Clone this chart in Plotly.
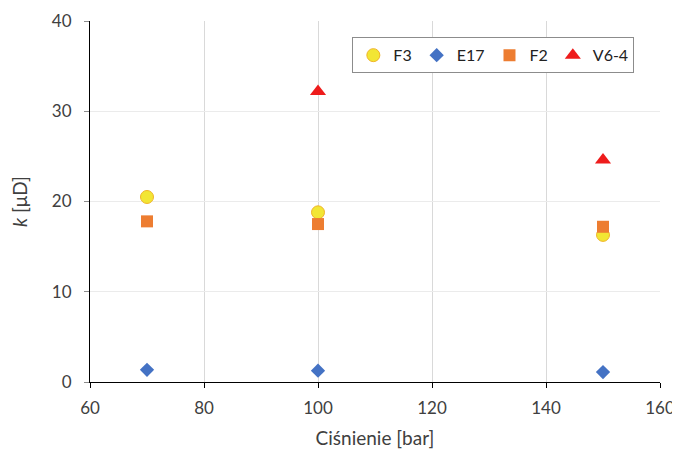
import plotly.graph_objects as go

pressure = [70, 100, 150]
f3 = [20.5, 18.8, 16.3]
e17 = [1.35, 1.25, 1.1]
f2 = [17.8, 17.5, 17.2]
v64_x = [100, 150]
v64 = [32.2, 24.6]

fig = go.Figure()
fig.add_trace(go.Scatter(x=pressure, y=f3, mode="markers", name="F3",
                         marker=dict(symbol="circle", size=13, color="#f2e634",
                                     line=dict(color="#f0b429", width=1))))
fig.add_trace(go.Scatter(x=pressure, y=e17, mode="markers", name="E17",
                         marker=dict(symbol="diamond", size=11, color="#4472c4",
                                     line=dict(width=0))))
fig.add_trace(go.Scatter(x=pressure, y=f2, mode="markers", name="F2",
                         marker=dict(symbol="square", size=12, color="#ed7d31",
                                     line=dict(width=0))))
fig.add_trace(go.Scatter(x=v64_x, y=v64, mode="markers", name="V6-4",
                         marker=dict(symbol="triangle-up", size=14, color="#ee1c1c",
                                     line=dict(width=0))))

fig.update_layout(
    width=672, height=441,
    margin=dict(l=82, r=20, t=13, b=67, autoexpand=False),
    paper_bgcolor="white", plot_bgcolor="white",
    font=dict(family="Lato, Open Sans, sans-serif", size=17, color="#404040"),
    showlegend=True,
    legend=dict(orientation="h", x=0.955, y=0.955, xanchor="right", yanchor="top",
                bordercolor="#8c8c8c", borderwidth=1, bgcolor="white",
                font=dict(size=16, color="#222222"), itemwidth=30,
                tracegroupgap=0),
    xaxis=dict(range=[60, 160], dtick=20, showgrid=True, gridcolor="#d9d9d9",
               gridwidth=1, zeroline=False, showline=True, linecolor="#000000",
               linewidth=1, ticks="outside", ticklen=5, tickcolor="#000000",
               ticklabelstandoff=6, ticklabeloverflow="allow", automargin=False,
               title=dict(text="Ciśnienie [bar]", standoff=18,
                          font=dict(size=19, color="#404040"))),
    yaxis=dict(range=[0, 40], dtick=10, showgrid=True, gridcolor="#ebebeb",
               gridwidth=1, zeroline=False, showline=True, linecolor="#000000",
               linewidth=1, ticks="outside", ticklen=5, tickcolor="#8c8c8c",
               ticklabelstandoff=9, ticklabeloverflow="allow", automargin=False,
               title=dict(text="<i>k</i> [μD]", standoff=20,
                          font=dict(size=19, color="#404040"))),
)

fig.write_html("out.html")
